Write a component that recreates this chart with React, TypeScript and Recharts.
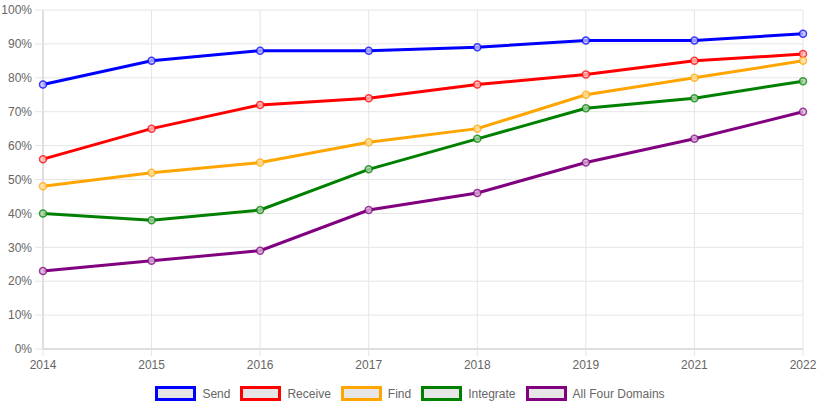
import { LineChart, Line, XAxis, YAxis, CartesianGrid, Legend } from "recharts";

const years = ["2014", "2015", "2016", "2017", "2018", "2019", "2021", "2022"];
const send = [78, 85, 88, 88, 89, 91, 91, 93];
const receive = [56, 65, 72, 74, 78, 81, 85, 87];
const find = [48, 52, 55, 61, 65, 75, 80, 85];
const integrate = [40, 38, 41, 53, 62, 71, 74, 79];
const allFour = [23, 26, 29, 41, 46, 55, 62, 70];
const yTicks = [0, 10, 20, 30, 40, 50, 60, 70, 80, 90, 100];

const series = [
  { key: "send", name: "Send", color: "#0000ff", fill: "rgba(190,190,255,0.8)" },
  { key: "receive", name: "Receive", color: "#ff0000", fill: "rgba(255,190,190,0.8)" },
  { key: "find", name: "Find", color: "#ffa500", fill: "rgba(255,225,170,0.8)" },
  { key: "integrate", name: "Integrate", color: "#008000", fill: "rgba(170,210,170,0.8)" },
  { key: "allFour", name: "All Four Domains", color: "#800080", fill: "rgba(215,180,215,0.8)" },
];

const data = years.map((year, i) => ({
  year,
  send: send[i],
  receive: receive[i],
  find: find[i],
  integrate: integrate[i],
  allFour: allFour[i],
}));

const font = "'Liberation Sans', Arial, Helvetica, sans-serif";
const tickStyle = { fontSize: 12, fill: "#666", fontFamily: font };

function ChartLegend() {
  return (
    <div
      style={{
        height: 31,
        display: "flex",
        justifyContent: "center",
        alignItems: "center",
        gap: 10,
        paddingBottom: 2,
        boxSizing: "border-box",
        fontFamily: font,
        fontSize: 12,
        color: "#666",
      }}
    >
      {series.map((s) => (
        <span key={s.key} style={{ display: "flex", alignItems: "center" }}>
          <span
            style={{
              display: "inline-block",
              width: 35,
              height: 9,
              border: `3px solid ${s.color}`,
              background: "#e6e6e6",
              marginRight: 6,
            }}
          />
          {s.name}
        </span>
      ))}
    </div>
  );
}

export default function App() {
  return (
    <div style={{ position: "absolute", left: 0, top: 0, width: 820, height: 410, background: "#fff" }}>
      <LineChart width={820} height={410} data={data} margin={{ top: 10, right: 17, left: 0, bottom: 0 }}>
        <CartesianGrid stroke="#e5e5e5" vertical horizontal />
        <XAxis
          dataKey="year"
          height={30}
          tick={tickStyle}
          tickSize={7}
          tickMargin={4}
          stroke="#ccc"
          tickLine={{ stroke: "#e5e5e5" }}
          interval={0}
        />
        <YAxis
          width={43}
          domain={[0, 100]}
          ticks={yTicks}
          tickFormatter={(v) => `${v}%`}
          tick={tickStyle}
          tickSize={8}
          tickMargin={3}
          stroke="#ccc"
          tickLine={{ stroke: "#e5e5e5" }}
          interval={0}
        />
        <Legend
          verticalAlign="bottom"
          wrapperStyle={{ left: 0, width: 820 }}
          content={() => <ChartLegend />}
        />
        {series.map((s) => (
          <Line
            key={s.key}
            dataKey={s.key}
            name={s.name}
            type="linear"
            stroke={s.color}
            strokeWidth={3}
            dot={{ r: 3.5, stroke: s.color, strokeOpacity: 0.75, strokeWidth: 1.5, fill: s.fill }}
            activeDot={false}
            isAnimationActive={false}
          />
        ))}
      </LineChart>
    </div>
  );
}
